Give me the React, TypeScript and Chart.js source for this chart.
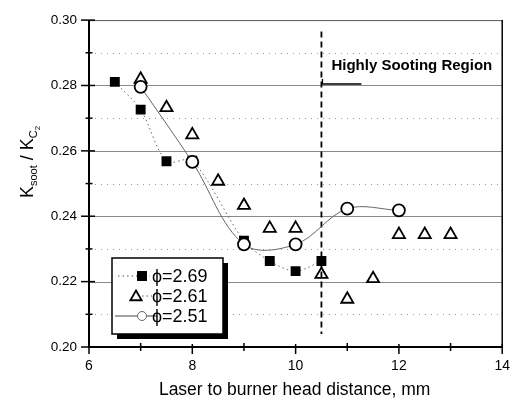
import React, { useEffect, useRef } from "react";
import { Chart, registerables } from "chart.js";

Chart.register(...registerables);

const FONT = "'Liberation Sans', Arial, sans-serif";

const xTicks = [6, 8, 10, 12, 14];
const yTicks = [0.2, 0.22, 0.24, 0.26, 0.28, 0.3];

const sqX = [6.5, 7, 7.5, 8, 9, 9.5, 10, 10.5];
const sqY = [0.2811, 0.2726, 0.2568, 0.2570, 0.2325, 0.2263, 0.2232, 0.2263];

const triX = [7, 7.5, 8, 8.5, 9, 9.5, 10, 10.5, 11, 11.5, 12, 12.5, 13];
const triY = [0.2819, 0.2732, 0.2649, 0.2507, 0.2433, 0.2363, 0.2363, 0.2222, 0.2146, 0.2209, 0.2344, 0.2344, 0.2344];

const cirX = [7, 8, 9, 10, 11, 12];
const cirY = [0.2796, 0.2566, 0.2314, 0.2314, 0.2423, 0.2418];

const seriesLabels = ["ϕ=2.69", "ϕ=2.61", "ϕ=2.51"];
const regionX = 10.5;
const regionLabel = "Highly Sooting Region";
const xTitle = "Laser to burner head distance, mm";

const zip = (xs: number[], ys: number[]) => xs.map((x, i) => ({ x, y: ys[i] }));

const decor = {
  id: "decor",
  beforeDatasetsDraw(chart: any) {
    const { ctx, chartArea: a, scales } = chart;
    const y = scales.y;
    ctx.save();
    for (let i = 1; i < 10; i++) {
      const v = 0.2 + i * 0.01;
      const py = Math.round(y.getPixelForValue(v)) + 0.5;
      ctx.beginPath();
      if (i % 2 === 0) {
        ctx.setLineDash([]);
        ctx.strokeStyle = "#8a8a8a";
        ctx.lineWidth = 1;
      } else {
        ctx.setLineDash([1, 5]);
        ctx.strokeStyle = "#999";
        ctx.lineWidth = 1;
      }
      ctx.moveTo(a.left, py);
      ctx.lineTo(a.right, py);
      ctx.stroke();
    }
    const vx = scales.x.getPixelForValue(regionX);
    ctx.setLineDash([6, 4]);
    ctx.strokeStyle = "#000";
    ctx.lineWidth = 1.8;
    ctx.beginPath();
    ctx.moveTo(vx, y.getPixelForValue(0.2965));
    ctx.lineTo(vx, y.getPixelForValue(0.204));
    ctx.stroke();
    ctx.restore();
  },
  afterDatasetsDraw(chart: any) {
    const { ctx, chartArea: a, scales } = chart;
    const x = scales.x;
    const y = scales.y;
    ctx.save();
    ctx.setLineDash([]);
    ctx.lineWidth = 1;
    ctx.strokeStyle = "#555";
    ctx.beginPath();
    ctx.moveTo(a.left, a.top + 0.5);
    ctx.lineTo(a.right, a.top + 0.5);
    ctx.stroke();
    ctx.strokeStyle = "#000";
    ctx.lineWidth = 1.5;
    ctx.beginPath();
    ctx.moveTo(a.right, a.top);
    ctx.lineTo(a.right, a.bottom);
    ctx.stroke();
    ctx.lineWidth = 2;
    ctx.beginPath();
    ctx.moveTo(a.left, a.top);
    ctx.lineTo(a.left, a.bottom);
    ctx.lineTo(a.right, a.bottom);
    ctx.stroke();
    ctx.lineWidth = 1.5;
    for (let i = 0; i <= 10; i++) {
      const v = 0.2 + i * 0.01;
      const py = y.getPixelForValue(v);
      ctx.beginPath();
      if (i % 2 === 0) {
        ctx.moveTo(a.left - 8, py);
        ctx.lineTo(a.left + 6, py);
      } else {
        ctx.moveTo(a.left - 3.5, py);
        ctx.lineTo(a.left + 3.5, py);
      }
      ctx.stroke();
    }
    for (let v = 6; v <= 14; v++) {
      const px = x.getPixelForValue(v);
      ctx.beginPath();
      if (v % 2 === 0) {
        ctx.moveTo(px, a.bottom - 3);
        ctx.lineTo(px, a.bottom + 7);
      } else {
        ctx.moveTo(px, a.bottom - 4);
        ctx.lineTo(px, a.bottom + 4);
      }
      ctx.stroke();
    }
    const vx = x.getPixelForValue(regionX);
    ctx.fillStyle = "#000";
    ctx.font = `bold 15px ${FONT}`;
    ctx.textBaseline = "alphabetic";
    ctx.textAlign = "left";
    ctx.fillText(regionLabel, vx + 10, 70);
    ctx.lineWidth = 1.3;
    ctx.beginPath();
    ctx.moveTo(vx + 1, 79);
    ctx.lineTo(vx + 1, 84);
    ctx.lineTo(vx + 40, 84);
    ctx.stroke();

    const L = 112, T = 258, W = 111, H = 76;
    ctx.fillStyle = "#000";
    ctx.fillRect(L + 5, T + 5, W, H);
    ctx.fillStyle = "#fff";
    ctx.fillRect(L, T, W, H);
    ctx.lineWidth = 1.5;
    ctx.strokeStyle = "#000";
    ctx.strokeRect(L, T, W, H);
    const rows = [T + 18, T + 38, T + 58];
    ctx.strokeStyle = "#555";
    ctx.lineWidth = 1;
    ctx.setLineDash([1.5, 3]);
    ctx.beginPath();
    ctx.moveTo(L + 6, rows[0]);
    ctx.lineTo(L + 38, rows[0]);
    ctx.stroke();
    ctx.setLineDash([]);
    ctx.fillStyle = "#000";
    ctx.fillRect(L + 25, rows[0] - 5, 10, 10);
    ctx.setLineDash([1.5, 3]);
    ctx.beginPath();
    ctx.moveTo(L + 30, rows[1]);
    ctx.lineTo(L + 40, rows[1]);
    ctx.stroke();
    ctx.setLineDash([]);
    ctx.strokeStyle = "#000";
    ctx.lineWidth = 1.8;
    ctx.beginPath();
    const tx = L + 24, ty = rows[1] + 1, r = 6.5;
    ctx.moveTo(tx, ty - r);
    ctx.lineTo(tx + r * 0.866, ty + r * 0.5);
    ctx.lineTo(tx - r * 0.866, ty + r * 0.5);
    ctx.closePath();
    ctx.stroke();
    ctx.strokeStyle = "#444";
    ctx.lineWidth = 1;
    ctx.beginPath();
    ctx.moveTo(L + 3, rows[2]);
    ctx.lineTo(L + 45, rows[2]);
    ctx.stroke();
    ctx.fillStyle = "#fff";
    ctx.beginPath();
    ctx.arc(L + 30, rows[2], 4.5, 0, Math.PI * 2);
    ctx.fill();
    ctx.strokeStyle = "#666";
    ctx.stroke();
    ctx.fillStyle = "#000";
    ctx.font = `18px ${FONT}`;
    ctx.textBaseline = "middle";
    seriesLabels.forEach((s, i) => ctx.fillText(s, L + 40, rows[i] + 1));

    ctx.save();
    ctx.translate(27, 162);
    ctx.rotate(-Math.PI / 2);
    ctx.textBaseline = "alphabetic";
    ctx.textAlign = "left";
    const big = `18px ${FONT}`;
    const small = `11px ${FONT}`;
    const tiny = `8px ${FONT}`;
    const parts: [string, string, number][] = [
      ["K", big, 0],
      ["soot", small, 4],
      [" / ", big, 0],
      ["K", big, 0],
      ["C", small, 4],
    ];
    let total = 0;
    parts.forEach(([t, f]) => { ctx.font = f; total += ctx.measureText(t).width; });
    ctx.font = tiny;
    total += ctx.measureText("2").width;
    let cx = -total / 2;
    parts.forEach(([t, f, dy]) => {
      ctx.font = f;
      ctx.fillText(t, cx, 6 + dy);
      cx += ctx.measureText(t).width;
    });
    ctx.font = tiny;
    ctx.fillText("2", cx, 13);
    ctx.restore();

    ctx.font = `17.5px ${FONT}`;
    ctx.textAlign = "center";
    ctx.textBaseline = "middle";
    ctx.fillStyle = "#000";
    ctx.fillText(xTitle, (a.left + a.right) / 2 - 1, 390);
    ctx.restore();
  },
};

export default function App() {
  const ref = useRef<HTMLCanvasElement>(null);
  useEffect(() => {
    document.body.style.margin = "0";
    const chart = new Chart(ref.current as HTMLCanvasElement, {
      type: "scatter",
      data: {
        datasets: [
          {
            label: seriesLabels[2],
            data: zip(cirX, cirY),
            showLine: true,
            tension: 0.35,
            borderColor: "#666",
            borderWidth: 1,
            pointStyle: "circle",
            pointRadius: 6,
            pointBorderWidth: 1.8,
            pointBorderColor: "#000",
            pointBackgroundColor: "#fff",
            order: 0,
          },
          {
            label: seriesLabels[1],
            data: zip(triX, triY),
            showLine: false,
            pointStyle: "triangle",
            pointRadius: 7,
            pointBorderWidth: 1.8,
            pointBorderColor: "#000",
            pointBackgroundColor: "rgba(255,255,255,0)",
            order: 1,
          },
          {
            label: seriesLabels[0],
            data: zip(sqX, sqY),
            showLine: true,
            tension: 0.3,
            borderColor: "#666",
            borderWidth: 1,
            borderDash: [1.5, 3],
            pointStyle: "rect",
            pointRadius: 7,
            pointBorderWidth: 0,
            pointBackgroundColor: "#000",
            pointBorderColor: "#000",
            order: 2,
          },
        ],
      },
      options: {
        responsive: false,
        animation: false,
        layout: { padding: { left: 0, top: 11, right: 13, bottom: 0 } },
        plugins: { legend: { display: false }, tooltip: { enabled: false } },
        scales: {
          x: {
            type: "linear",
            min: 6,
            max: 14,
            afterBuildTicks: (s: any) => { s.ticks = xTicks.map((v) => ({ value: v })); },
            ticks: { color: "#000", font: { family: FONT, size: 14 }, padding: 11, maxRotation: 0 },
            grid: { display: false, drawTicks: false },
            border: { display: false },
            afterFit: (s: any) => { s.height = 56; },
          },
          y: {
            type: "linear",
            min: 0.2,
            max: 0.3,
            afterBuildTicks: (s: any) => { s.ticks = yTicks.map((v) => ({ value: v })); },
            ticks: {
              color: "#000",
              font: { family: FONT, size: 13.5 },
              padding: 12,
              callback: (v: any) => Number(v).toFixed(2),
            },
            grid: { display: false, drawTicks: false },
            border: { display: false },
            afterFit: (s: any) => { s.width = 89; },
          },
        },
      },
      plugins: [decor],
    } as any);
    return () => chart.destroy();
  }, []);
  return (
    <div style={{ position: "absolute", left: 0, top: 0, width: 521, height: 403, background: "#fff" }}>
      <canvas ref={ref} width={521} height={403} />
    </div>
  );
}
